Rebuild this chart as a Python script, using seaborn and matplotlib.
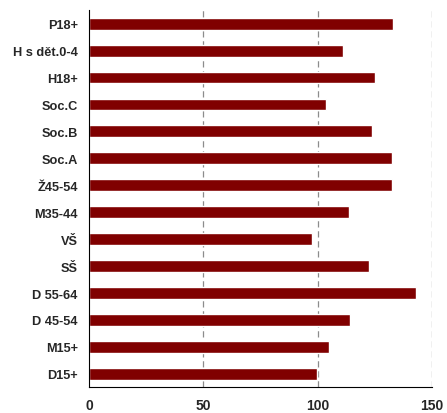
import matplotlib
matplotlib.use("Agg")
import matplotlib.pyplot as plt
import seaborn as sns
import pandas as pd
import numpy as np
from matplotlib.ticker import FixedLocator

# Index values per target group
groups = ["P18+", "H s dět.0-4", "H18+", "Soc.C", "Soc.B", "Soc.A", "Ž45-54",
          "M35-44", "VŠ", "SŠ", "D 55-64", "D 45-54", "M15+", "D15+"]
index_values = [133.2, 111.2, 125.3, 103.8, 124.0, 132.4, 132.8,
                113.9, 97.7, 122.4, 143.1, 114.3, 105.0, 99.9]
x_ticks = [0, 50, 100, 150]

df = pd.DataFrame({"group": groups, "index": index_values})

sns.set_style("white")
plt.rcParams["font.family"] = ["Liberation Sans", "DejaVu Sans"]

fig = plt.figure(figsize=(4.47, 4.14), dpi=100)
ax = fig.add_axes([0.199, 0.062, 0.767, 0.911])

sns.barplot(data=df, x="index", y="group", order=groups, orient="h",
            color="#800000", saturation=1, width=0.44, ax=ax)

ax.set_xlim(0, 150)
ax.set_ylim(len(groups) - 0.5, -0.5)
ax.set_xticks(x_ticks)
ax.set_xticklabels([str(t) for t in x_ticks], fontsize=10, fontweight="bold")
ax.set_xlabel("")
ax.set_ylabel("")

# dashed vertical grid
for t in x_ticks[1:]:
    ax.axvline(t, color="#8c8c8c", linestyle=(0, (5, 3)), linewidth=0.9, zorder=0)

for lab in ax.get_yticklabels():
    lab.set_fontsize(9.2)
    lab.set_fontweight("bold")

# category separators on the y axis
ax.yaxis.set_minor_locator(FixedLocator(np.arange(-0.5, len(groups), 1.0)))
ax.tick_params(axis="y", which="major", length=0, pad=8)
ax.tick_params(axis="y", which="minor", length=4, width=0.8, color="black", direction="out")
ax.tick_params(axis="x", which="major", length=7, width=0.8, color="black",
               direction="inout", pad=4)

for side in ["top", "right"]:
    ax.spines[side].set_visible(False)
ax.spines["left"].set_color("black")
ax.spines["left"].set_linewidth(0.8)
ax.spines["bottom"].set_color("black")
ax.spines["bottom"].set_linewidth(0.8)

fig.savefig("out.png", dpi=100)
